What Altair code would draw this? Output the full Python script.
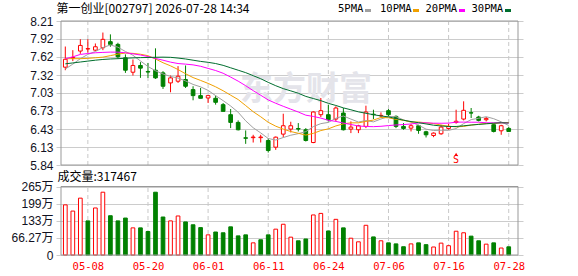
import altair as alt
import pandas as pd

# ---------------- data ----------------
dates = ['04-30','05-06','05-07','05-08','05-11','05-12','05-13','05-14','05-15','05-18',
         '05-19','05-20','05-21','05-22','05-25','05-26','05-27','05-28','05-29','06-01',
         '06-02','06-03','06-04','06-05','06-08','06-09','06-10','06-11','06-12','06-15',
         '06-16','06-17','06-18','06-22','06-23','06-24','06-25','06-26','06-29','06-30',
         '07-01','07-02','07-03','07-06','07-07','07-08','07-09','07-10','07-13','07-14',
         '07-15','07-16','07-17','07-20','07-21','07-22','07-23','07-24','07-27','07-28']

open_ = [7.45, 7.60, 7.715, 7.75, 7.73, 7.77, 7.87, 7.825, 7.604, 7.367,
         7.478, 7.378, 7.40, 7.356, 7.191, 7.219, 7.246, 7.081, 6.982, 6.943,
         6.938, 6.833, 6.668, 6.541, 6.288, 6.29, 6.29, 6.243, 6.133, 6.348,
         6.431, 6.44, 6.42, 6.21, 6.668, 6.668, 6.596, 6.695, 6.431, 6.42,
         6.475, 6.676, 6.65, 6.734, 6.64, 6.475, 6.447, 6.486, 6.387, 6.326,
         6.354, 6.442, 6.54, 6.596, 6.70, 6.63, 6.585, 6.503, 6.403, 6.442]
high = [7.79, 7.73, 7.91, 7.91, 7.84, 8.02, 7.99, 7.852, 7.66, 7.577,
        7.533, 7.52, 7.76, 7.384, 7.312, 7.467, 7.478, 7.136, 7.108, 6.982,
        6.982, 6.86, 6.761, 6.574, 6.409, 6.337, 6.337, 6.28, 6.309, 6.684,
        6.552, 6.53, 6.447, 6.723, 6.943, 6.833, 6.805, 6.778, 6.558, 6.502,
        6.816, 6.75, 6.706, 6.761, 6.657, 6.53, 6.519, 6.502, 6.403, 6.376,
        6.502, 6.519, 6.75, 6.888, 6.778, 6.65, 6.63, 6.53, 6.502, 6.464]
low = [7.40, 7.55, 7.67, 7.69, 7.715, 7.73, 7.786, 7.588, 7.356, 7.312,
       7.274, 7.274, 7.257, 7.092, 7.037, 7.191, 7.108, 6.905, 6.938, 6.86,
       6.833, 6.723, 6.447, 6.409, 6.188, 6.21, 6.21, 6.045, 6.089, 6.298,
       6.376, 6.392, 6.227, 6.199, 6.63, 6.557, 6.557, 6.409, 6.365, 6.365,
       6.447, 6.596, 6.63, 6.64, 6.447, 6.42, 6.392, 6.354, 6.293, 6.298,
       6.337, 6.42, 6.52, 6.574, 6.613, 6.557, 6.557, 6.376, 6.337, 6.392]
close = [7.58, 7.61, 7.808, 7.755, 7.786, 7.908, 7.825, 7.621, 7.40, 7.478,
         7.434, 7.37, 7.274, 7.136, 7.274, 7.301, 7.136, 6.982, 6.938, 6.982,
         6.872, 6.723, 6.541, 6.42, 6.28, 6.30, 6.30, 6.078, 6.298, 6.486,
         6.486, 6.431, 6.243, 6.712, 6.734, 6.585, 6.778, 6.42, 6.464, 6.486,
         6.712, 6.668, 6.657, 6.668, 6.475, 6.442, 6.486, 6.409, 6.337, 6.365,
         6.464, 6.475, 6.56, 6.74, 6.695, 6.574, 6.607, 6.392, 6.486, 6.392]

ma5 = [7.42, 7.50, 7.59, 7.66, 7.708, 7.773, 7.816, 7.779, 7.708, 7.646,
       7.552, 7.461, 7.391, 7.338, 7.298, 7.271, 7.224, 7.166, 7.126, 7.068,
       6.982, 6.899, 6.811, 6.708, 6.567, 6.453, 6.368, 6.276, 6.251, 6.292,
       6.330, 6.356, 6.389, 6.472, 6.521, 6.541, 6.610, 6.646, 6.596, 6.547,
       6.572, 6.550, 6.597, 6.638, 6.636, 6.582, 6.546, 6.496, 6.430, 6.408,
       6.412, 6.410, 6.440, 6.521, 6.587, 6.609, 6.635, 6.602, 6.551, 6.490]
ma10 = [7.59, 7.59, 7.59, 7.595, 7.605, 7.615, 7.64, 7.665, 7.683, 7.677,
        7.663, 7.639, 7.585, 7.523, 7.472, 7.411, 7.342, 7.279, 7.232, 7.183,
        7.127, 7.062, 6.989, 6.917, 6.818, 6.717, 6.634, 6.543, 6.479, 6.430,
        6.391, 6.362, 6.332, 6.361, 6.407, 6.435, 6.483, 6.517, 6.534, 6.534,
        6.557, 6.580, 6.622, 6.617, 6.591, 6.577, 6.548, 6.547, 6.534, 6.522,
        6.497, 6.478, 6.468, 6.475, 6.497, 6.511, 6.523, 6.521, 6.536, 6.539]
ma20 = [7.59, 7.62, 7.66, 7.675, 7.687, 7.693, 7.698, 7.697, 7.687, 7.67,
        7.65, 7.625, 7.594, 7.565, 7.533, 7.51, 7.50, 7.488, 7.465, 7.430,
        7.395, 7.350, 7.287, 7.220, 7.145, 7.064, 6.988, 6.911, 6.856, 6.806,
        6.759, 6.712, 6.660, 6.639, 6.612, 6.576, 6.558, 6.530, 6.507, 6.482,
        6.474, 6.471, 6.477, 6.489, 6.499, 6.506, 6.515, 6.532, 6.534, 6.528,
        6.527, 6.529, 6.545, 6.546, 6.544, 6.544, 6.535, 6.534, 6.535, 6.530]
ma30 = [7.505, 7.52, 7.535, 7.55, 7.565, 7.577, 7.585, 7.59, 7.597, 7.603,
        7.607, 7.61, 7.613, 7.615, 7.612, 7.60, 7.585, 7.565, 7.545, 7.53,
        7.51, 7.48, 7.44, 7.40, 7.36, 7.31, 7.26, 7.20, 7.145, 7.097,
        7.060, 7.021, 6.969, 6.934, 6.899, 6.855, 6.820, 6.780, 6.749, 6.715,
        6.691, 6.668, 6.647, 6.632, 6.605, 6.577, 6.555, 6.536, 6.516, 6.495,
        6.482, 6.473, 6.474, 6.485, 6.498, 6.508, 6.518, 6.528, 6.535, 6.531]

# volume in 万 (10k)
volume = [194, 170, 220, 132, 182, 243, 152, 132, 143, 105,
          105, 91, 243, 147, 132, 151, 128, 117, 106, 78,
          89, 86, 109, 74, 78, 47, 59, 78, 100, 119,
          69, 55, 62, 155, 161, 93, 138, 105, 65, 51,
          115, 70, 55, 47, 43, 32, 43, 47, 40, 31,
          46, 36, 92, 86, 73, 55, 42, 47, 27, 31.7]
vol_up = [1, 1, 1, 0, 1, 1, 0, 0, 0, 1,
          0, 0, 0, 0, 1, 1, 0, 0, 0, 1,
          0, 0, 0, 0, 0, 1, 0, 0, 1, 1,
          1, 0, 0, 1, 1, 0, 1, 0, 1, 1,
          1, 0, 1, 0, 0, 0, 1, 0, 0, 1,
          1, 1, 1, 1, 0, 0, 1, 0, 1, 0]

label_dates = ['05-08', '05-20', '06-01', '06-11', '06-24', '07-06', '07-16', '07-28']
price_ticks = [5.84, 6.13, 6.43, 6.73, 7.03, 7.32, 7.62, 7.92, 8.21]
vol_ticks = [0, 66.27, 132.54, 198.81, 265.08]
vol_tick_labels = ['0', '66.27万', '133万', '199万', '265万']
ma_names = ['5PMA', '10PMA', '20PMA', '30PMA']
ma_colors = ['#a0a0a0', '#f0a000', '#ff00ff', '#006e2e']

title_text = '第一创业[002797] 2026-07-28 14:34'
vol_text = '成交量:317467'
watermark = '东方财富'

# ---------------- tables ----------------
n = len(dates)
df = pd.DataFrame({
    'i': list(range(n)), 'date': dates, 'open': open_, 'high': high, 'low': low,
    'close': close, 'vol': volume, 'vup': vol_up,
    'ma5': ma5, 'ma10': ma10, 'ma20': ma20, 'ma30': ma30,
})
df['bot'] = df[['open', 'close']].min(axis=1)
df['top'] = df[['open', 'close']].max(axis=1)
df['up'] = (df['close'] >= df['open']).astype(int)
df['v0'] = 0.0

W, H = 467, 234
x_dom = [-0.573, 60.234]
p_dom = [price_ticks[0], price_ticks[-1]]
v_dom = [vol_ticks[0], vol_ticks[-1]]

tick_idx = [dates.index(d) for d in label_dates]
grid_df = pd.DataFrame({'i': tick_idx, 'plo': p_dom[0], 'phi': p_dom[1],
                        'vlo': v_dom[0], 'vhi': v_dom[1]})
frame_df = pd.DataFrame({'x0': [x_dom[0]], 'x1': [x_dom[1]], 'plo': [p_dom[0]],
                         'phi': [p_dom[1]], 'vlo': [v_dom[0]], 'vhi': [v_dom[1]]})
sig_df = pd.DataFrame({'i': [52], 'tri': [6.015], 's': [5.915]})
one = pd.DataFrame({'k': [0]})

xs = alt.Scale(domain=x_dom, nice=False, zero=False)
x_label_expr = '[' + ','.join("'%s'" % d for d in dates) + '][datum.value]'
x_axis = alt.Axis(values=tick_idx, labelExpr=x_label_expr, grid=False, ticks=False,
                  domain=False, labelColor='#ff0000', labelFont='DejaVu Sans Mono',
                  labelFontSize=10.5, labelPadding=6, labelFlush=False, title=None)

ps = alt.Scale(domain=p_dom, range=[144, 0], nice=False, zero=False)
p_axis = alt.Axis(values=price_ticks, format='.2f', orient='left', grid=True,
                  gridColor='#cccccc', gridWidth=1, domain=False, ticks=False,
                  labelFont='Liberation Sans', labelFontSize=12, labelColor='#111122',
                  labelPadding=3, labelFlush=False, labelOverlap=False, title=None)

vol_expr = ''
for k in range(len(vol_ticks) - 1):
    mid = (vol_ticks[k] + vol_ticks[k + 1]) / 2
    vol_expr += "datum.value < %g ? '%s' : " % (mid, vol_tick_labels[k])
vol_expr += "'%s'" % vol_tick_labels[-1]
vs = alt.Scale(domain=v_dom, range=[234, 165.5], nice=False, zero=False)
v_axis = alt.Axis(values=vol_ticks, labelExpr=vol_expr, orient='left', grid=True,
                  gridColor='#cccccc', gridWidth=1, domain=False, ticks=False,
                  labelFont='Liberation Sans, Noto Sans CJK SC', labelFontSize=12,
                  labelColor='#111122', labelPadding=3, labelFlush=False,
                  labelOverlap=False, title=None)


def X(field):
    return alt.X(field, type='quantitative', scale=xs, axis=x_axis)


def PY(field):
    return alt.Y(field, type='quantitative', scale=ps, axis=p_axis)


def VY(field):
    return alt.Y(field, type='quantitative', scale=vs, axis=v_axis)


RED, GREEN = '#ff0000', '#008000'
up_stroke = alt.when(alt.datum.up == 1).then(alt.value(RED)).otherwise(alt.value(GREEN))
up_fill = alt.when(alt.datum.up == 1).then(alt.value('#ffffff')).otherwise(alt.value(GREEN))
vup_stroke = alt.when(alt.datum.vup == 1).then(alt.value(RED)).otherwise(alt.value(GREEN))
vup_fill = alt.when(alt.datum.vup == 1).then(alt.value('#ffffff')).otherwise(alt.value(GREEN))

# ---------------- price panel ----------------
p_grid = alt.Chart(grid_df).mark_rule(color='#c8c8c8', strokeDash=[4, 3], strokeWidth=1).encode(
    x=X('i'), y=PY('plo'), y2='phi')
p_frame = alt.Chart(frame_df).mark_rect(fillOpacity=0, stroke='#999999', strokeWidth=1).encode(
    x=X('x0'), x2='x1', y=PY('plo'), y2='phi')
wm = alt.Chart(one).mark_text(text=watermark, font='Noto Sans CJK SC', fontSize=33,
                              fontWeight='bold', color='#e4e4ea', align='center',
                              baseline='middle').encode(x=alt.value(250), y=alt.value(69))
wicks = alt.Chart(df).mark_rule(strokeWidth=1).encode(
    x=X('i'), y=PY('low'), y2='high', color=up_stroke)
bodies = alt.Chart(df).mark_bar(size=3.7, strokeWidth=1).encode(
    x=X('i'), y=PY('bot'), y2='top', fill=up_fill, stroke=up_stroke)
ma_layers = []
for name, col, colr in zip(ma_names, ['ma5', 'ma10', 'ma20', 'ma30'], ma_colors):
    ma_layers.append(alt.Chart(df).mark_line(color=colr, strokeWidth=1).encode(
        x=X('i'), y=PY(col)))
sig_tri = alt.Chart(sig_df).mark_point(shape='triangle-up', filled=True, size=14,
                                       color=RED, opacity=1).encode(x=X('i'), y=PY('tri'))
sig_s = alt.Chart(sig_df).mark_text(text='S', color=RED, fontSize=10,
                                    font='DejaVu Sans Mono', baseline='middle').encode(
    x=X('i'), y=PY('s'))
title = alt.Chart(one).mark_text(text=title_text, font='Noto Sans CJK SC', fontSize=12,
                                 color='#000000', align='left', baseline='middle').encode(
    x=alt.value(0.5), y=alt.value(-12))

leg_x = [282, 324, 369.5, 415.5]
leg_sw = [312, 360, 406, 452]
leg_layers = []
for name, colr, lx, sx in zip(ma_names, ma_colors, leg_x, leg_sw):
    leg_layers.append(alt.Chart(one).mark_text(
        text=name, font='DejaVu Sans Mono', fontSize=10.5, color='#000000',
        align='left', baseline='middle').encode(x=alt.value(lx), y=alt.value(-12)))
    leg_layers.append(alt.Chart(one).mark_rect(color=colr).encode(
        x=alt.value(sx - 3), x2=alt.value(sx + 3), y=alt.value(-12), y2=alt.value(-9)))

price = alt.layer(p_grid, wm, wicks, bodies, *ma_layers, p_frame, sig_tri, sig_s,
                  title, *leg_layers)

# ---------------- volume panel ----------------
v_grid = alt.Chart(grid_df).mark_rule(color='#c8c8c8', strokeDash=[4, 3], strokeWidth=1).encode(
    x=X('i'), y=VY('vlo'), y2='vhi')
v_frame = alt.Chart(frame_df).mark_rect(fillOpacity=0, stroke='#999999', strokeWidth=1).encode(
    x=X('x0'), x2='x1', y=VY('vlo'), y2='vhi')
v_bars = alt.Chart(df).mark_bar(size=3.7, strokeWidth=1).encode(
    x=X('i'), y=VY('vol'), y2='v0', fill=vup_fill, stroke=vup_stroke)
v_label = alt.Chart(one).mark_text(text=vol_text, font='Noto Sans CJK SC', fontSize=12,
                                   color='#000000', align='left', baseline='middle').encode(
    x=alt.value(1.5), y=alt.value(156))

vol = alt.layer(v_grid, v_bars, v_frame, v_label)

chart = alt.layer(price, vol).resolve_scale(y='independent').properties(
    width=W, height=H, autosize='none',
    padding={'left': 56, 'top': 21, 'right': 55, 'bottom': 21},
    background='#ffffff',
).configure_view(strokeWidth=0)

chart.save('out.html', embed_options={'renderer': 'svg', 'actions': False})
